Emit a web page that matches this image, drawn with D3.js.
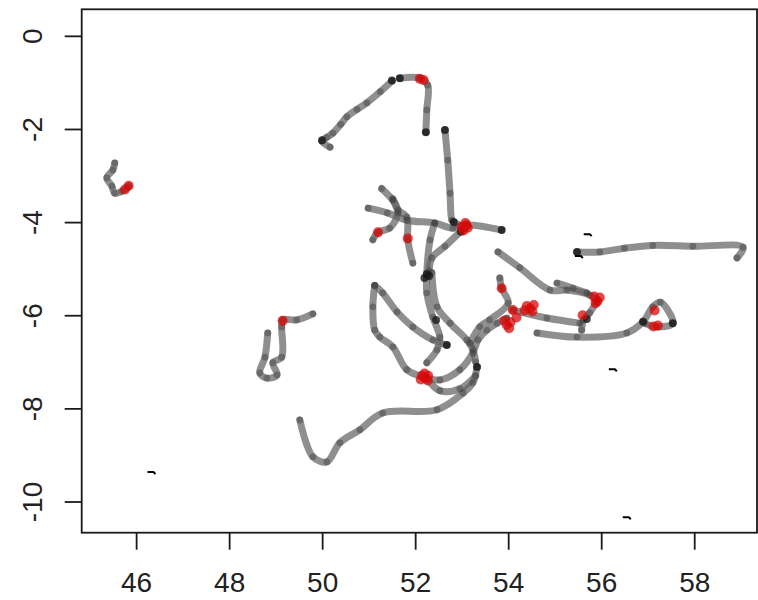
<!DOCTYPE html>
<html>
<head>
<meta charset="utf-8">
<script src="https://cdn.jsdelivr.net/npm/d3@7"></script>
<style>
  html, body { margin: 0; padding: 0; background: #fff; }
  svg text { font-family: "Liberation Sans", Arial, sans-serif; }
</style>
</head>
<body>
<div id="chart"></div>
<script>
// tick values
var xTicks = [46, 48, 50, 52, 54, 56, 58];
var yTicks = [0, -2, -4, -6, -8, -10];

// tracks, [lon, lat]
var tracks = [
  [[45.54,-2.73],[45.50,-2.88],[45.37,-3.05],[45.48,-3.23],[45.54,-3.38],[45.69,-3.34],[45.84,-3.23]],
  [[50.17,-2.39],[49.99,-2.26],[50.10,-2.18],[50.23,-2.09],[50.40,-1.90],[50.53,-1.74],[50.75,-1.58],[50.96,-1.44],[51.25,-1.20],[51.50,-0.97]],
  [[51.67,-0.91],[52.10,-0.91],[52.27,-1.06],[52.25,-1.59],[52.23,-2.07]],
  [[52.64,-2.02],[52.70,-2.67],[52.75,-3.38],[52.79,-3.96],[52.83,-4.00],[53.07,-4.13]],
  [[50.99,-3.70],[51.40,-3.80],[51.82,-3.96],[52.42,-4.02],[52.81,-4.13],[53.13,-4.06],[53.86,-4.17]],
  [[51.28,-3.28],[51.52,-3.53],[51.63,-3.74],[51.82,-3.89],[51.84,-4.38],[51.95,-4.88]],
  [[51.09,-4.38],[51.20,-4.22],[51.45,-4.13],[51.63,-3.80],[51.52,-3.50]],
  [[52.42,-4.02],[52.32,-4.38],[52.25,-5.09],[52.25,-5.52],[52.38,-6.04],[52.53,-6.47],[52.47,-6.74],[52.25,-7.02]],
  [[52.96,-4.22],[52.64,-4.52],[52.36,-4.77],[52.30,-5.05]],
  [[52.36,-5.09],[52.47,-5.82],[52.75,-6.17],[53.11,-6.53],[53.24,-6.74],[53.30,-7.00]],
  [[51.13,-5.36],[51.09,-5.82],[51.13,-6.32],[51.24,-6.47],[51.52,-6.68],[51.82,-7.17],[52.21,-7.33]],
  [[51.13,-5.36],[51.30,-5.52],[51.61,-5.93],[51.95,-6.25],[52.38,-6.53],[52.68,-6.64]],
  [[52.21,-7.33],[52.53,-7.39],[52.96,-7.17],[53.24,-6.81],[53.35,-6.53],[53.54,-6.32],[53.76,-6.17],[53.97,-6.06]],
  [[49.52,-8.25],[49.80,-9.04],[50.10,-9.15],[50.38,-8.74],[50.81,-8.46],[51.30,-8.10],[52.47,-8.03],[53.03,-7.67],[53.24,-7.45],[53.33,-7.11]],
  [[52.25,-7.35],[52.53,-7.62],[52.96,-7.58],[53.30,-7.30]],
  [[48.83,-6.38],[48.77,-6.90],[48.66,-7.24],[48.81,-7.35],[49.03,-7.28],[48.94,-7.02],[49.13,-6.90],[49.13,-6.25],[49.15,-6.10],[49.45,-6.10],[49.80,-5.97]],
  [[55.48,-4.64],[55.97,-4.64],[56.50,-4.56],[57.11,-4.50],[57.97,-4.52],[59.05,-4.54],[58.92,-4.77]],
  [[53.78,-4.64],[54.25,-4.98],[54.90,-5.46],[55.26,-5.46],[55.76,-5.57],[55.91,-5.67]],
  [[55.05,-5.31],[55.40,-5.42],[55.69,-5.52]],
  [[55.91,-5.70],[55.75,-5.95],[55.62,-6.10],[55.58,-6.32]],
  [[54.10,-5.89],[54.83,-6.06],[55.54,-6.17]],
  [[54.62,-6.38],[55.48,-6.47],[56.55,-6.38],[56.90,-6.14],[57.11,-5.82],[57.27,-5.72],[57.54,-6.17],[57.20,-6.25],[56.95,-6.18]],
  [[53.82,-5.20],[53.86,-5.42],[54.00,-5.74],[53.60,-6.10],[53.39,-6.25],[53.18,-6.60]]
];

// red fixes
var redFixes = [
  [45.76,-3.30],[45.84,-3.22],[52.10,-0.92],[52.18,-0.95],
  [53.00,-4.10],[53.08,-4.02],[53.13,-4.12],[53.04,-4.18],[53.10,-4.07],
  [51.20,-4.22],[51.84,-4.35],[49.15,-6.12],
  [52.15,-7.30],[52.22,-7.36],[52.28,-7.30],[52.20,-7.25],[52.27,-7.40],[52.12,-7.38],
  [53.86,-5.42],[54.47,-5.85],[54.55,-5.78],[54.40,-5.80],[54.52,-5.92],[54.35,-5.90],
  [54.10,-5.89],[53.97,-6.21],[54.05,-6.15],[53.92,-6.12],[54.02,-6.28],[54.18,-6.05],
  [55.85,-5.60],[55.92,-5.70],[55.97,-5.62],[55.88,-5.74],
  [55.60,-6.00],[57.15,-5.90],[57.22,-6.22],[57.12,-6.24]
];

// dark fixes
var darkFixes = [
  [51.50,-0.96],[50.00,-2.24],[51.67,-0.91],[52.23,-2.07],[52.64,-2.02],[52.83,-4.00],
  [53.86,-4.17],[52.25,-5.12],[52.20,-5.20],[52.30,-5.16],[52.68,-6.64],[55.48,-4.64],
  [55.69,-6.08],[57.54,-6.17],[56.90,-6.14],[53.33,-7.11],[52.45,-6.10],[52.99,-4.20]
];

// small stray black marks
var strayMarks = [[46.33,-9.39],[56.25,-7.18],[56.55,-10.36],[55.71,-4.28],[55.52,-4.75]];

var width = 758, height = 600;
var svg = d3.select("#chart").append("svg")
  .attr("width", width)
  .attr("height", height);

var x = d3.scaleLinear().domain([44.83, 59.35]).range([81.7, 757]);
var y = d3.scaleLinear().domain([0.57, -10.67]).range([9.3, 532.7]);

var line = d3.line()
  .x(d => x(d[0]))
  .y(d => y(d[1]))
  .curve(d3.curveCatmullRom.alpha(0.5));

// tracks
svg.append("g").selectAll("path")
  .data(tracks)
  .enter().append("path")
  .attr("d", line)
  .attr("fill", "none")
  .attr("stroke", "rgba(95,95,95,0.7)")
  .attr("stroke-width", 7)
  .attr("stroke-linecap", "round")
  .attr("stroke-linejoin", "round");

// beads along the tracks
svg.append("g").selectAll("circle")
  .data(tracks.flat())
  .enter().append("circle")
  .attr("cx", d => x(d[0]))
  .attr("cy", d => y(d[1]))
  .attr("r", 3.4)
  .attr("fill", "rgba(60,60,60,0.45)");

svg.append("g").selectAll("circle")
  .data(darkFixes)
  .enter().append("circle")
  .attr("cx", d => x(d[0]))
  .attr("cy", d => y(d[1]))
  .attr("r", 4)
  .attr("fill", "rgba(25,25,25,0.8)");

svg.append("g").selectAll("circle")
  .data(redFixes)
  .enter().append("circle")
  .attr("cx", d => x(d[0]))
  .attr("cy", d => y(d[1]))
  .attr("r", 5)
  .attr("fill", "rgba(215,10,10,0.75)");

svg.append("g").selectAll("path")
  .data(strayMarks)
  .enter().append("path")
  .attr("d", d => "M" + (x(d[0]) - 4) + "," + (y(d[1]) - 1) + "l6,0l2,2")
  .attr("fill", "none")
  .attr("stroke", "#000")
  .attr("stroke-width", 2);

// box
svg.append("rect")
  .attr("x", x.range()[0])
  .attr("y", y.range()[0])
  .attr("width", x.range()[1] - x.range()[0])
  .attr("height", y.range()[1] - y.range()[0])
  .attr("fill", "none")
  .attr("stroke", "#1a1a1a")
  .attr("stroke-width", 1.8);

// x axis
var xAxis = svg.append("g")
  .attr("transform", "translate(0," + y.range()[1] + ")")
  .call(d3.axisBottom(x).tickValues(xTicks).tickSize(17).tickFormat(d => String(d)));
xAxis.select(".domain").remove();
xAxis.selectAll("line").attr("stroke", "#1a1a1a").attr("stroke-width", 1.8);
xAxis.selectAll("text")
  .attr("font-size", 28).attr("fill", "#222")
  .attr("font-family", null)
  .attr("y", 59).attr("dy", null);

// y axis
var yAxis = svg.append("g")
  .attr("transform", "translate(" + x.range()[0] + ",0)")
  .call(d3.axisLeft(y).tickValues(yTicks).tickSize(17).tickFormat(d => String(d)));
yAxis.select(".domain").remove();
yAxis.selectAll("line").attr("stroke", "#1a1a1a").attr("stroke-width", 1.8);
yAxis.selectAll("text")
  .attr("font-size", 28).attr("fill", "#222")
  .attr("font-family", null)
  .attr("x", null).attr("dy", null)
  .attr("text-anchor", "middle")
  .attr("transform", "translate(-40,0) rotate(-90)");
</script>
</body>
</html>
